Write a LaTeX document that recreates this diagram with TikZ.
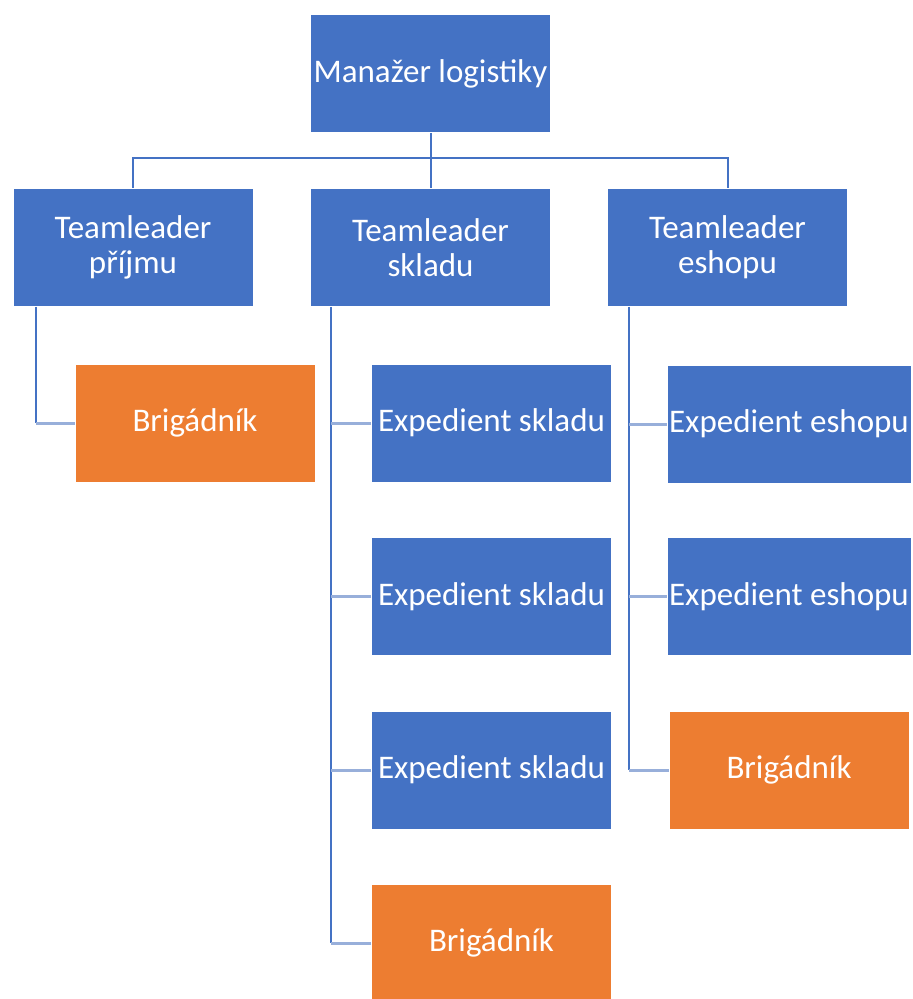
\documentclass[tikz,border=0pt]{standalone}
\usepackage{fontspec}
\setmainfont{Carlito}

\definecolor{boxblue}{HTML}{4472C4}
\definecolor{boxorange}{HTML}{ED7D31}
\definecolor{trunkblue}{HTML}{4472C4}
\definecolor{stubblue}{HTML}{98AFDA}

\tikzset{
  unit/.style={draw=white, line width=0.4pt, fill=boxblue, text=white, align=center,
    minimum width=120pt, minimum height=59pt, inner sep=1pt,
    font=\fontsize{16.5}{17.5}\selectfont},
  temp/.style={unit, fill=boxorange},
  trunk/.style={draw=trunkblue, line width=1pt},
  stub/.style={draw=stubblue, line width=1.5pt}
}

\begin{document}
\begin{tikzpicture}[x=0.5pt, y=-0.5pt]
\useasboundingbox (0,0) rectangle (912,999);

% management
\node[unit] (mgr) at (430.5,73.5) {Manažer logistiky};

% teamleaders
\node[unit] (tl_prijem) at (133,247.5) {Teamleader\\příjmu};
\node[unit] (tl_sklad) at (430.5,247.5) {Teamleader\\skladu};
\node[unit] (tl_eshop) at (727.5,247.5) {Teamleader\\eshopu};

\coordinate (bus) at (430.5,158);
\draw[trunk] (mgr.south) -- (bus) -| (tl_prijem.north);
\draw[trunk] (bus) -| (tl_eshop.north);
\draw[trunk] (bus) -- (tl_sklad.north);

% prijem
\node[temp] (prijem_1) at (195,423) {Brigádník};
\coordinate (prijem_trunk) at ([xshift=11.5pt]tl_prijem.south west);
\draw[trunk] (prijem_trunk) -- (prijem_trunk |- prijem_1.west);
\draw[stub] (prijem_1.west) -- (prijem_1.west -| prijem_trunk);

% sklad
\node[unit] (sklad_1) at (491.5,423) {Expedient skladu};
\node[unit] (sklad_2) at (491.5,596.5) {Expedient skladu};
\node[unit] (sklad_3) at (491.5,770) {Expedient skladu};
\node[temp] (sklad_4) at (491.5,943) {Brigádník};
\coordinate (sklad_trunk) at ([xshift=10.5pt]tl_sklad.south west);
\draw[trunk] (sklad_trunk) -- (sklad_trunk |- sklad_4.west);
\foreach \n in {1,...,4}
  \draw[stub] (sklad_\n.west) -- (sklad_\n.west -| sklad_trunk);

% eshop
\node[unit] (eshop_1) at (789,424) {Expedient eshopu};
\node[unit] (eshop_2) at (789,596.5) {Expedient eshopu};
\node[temp] (eshop_3) at (789,770) {Brigádník};
\coordinate (eshop_trunk) at ([xshift=11pt]tl_eshop.south west);
\draw[trunk] (eshop_trunk) -- (eshop_trunk |- eshop_3.west);
\foreach \n in {1,...,3}
  \draw[stub] (eshop_\n.west) -- (eshop_\n.west -| eshop_trunk);

\end{tikzpicture}
\end{document}
